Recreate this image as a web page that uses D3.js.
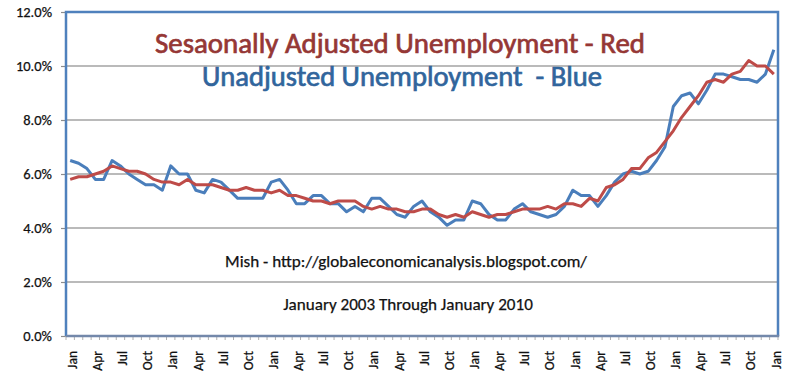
<!DOCTYPE html>
<html>
<head>
<meta charset="utf-8">
<script src="https://cdn.jsdelivr.net/npm/d3@7"></script>
<style>
  html, body { margin: 0; padding: 0; background: #fff; }
  svg { display: block; }
</style>
</head>
<body>
<svg id="chart" width="800" height="388"></svg>
<script>
// ---------------- data ----------------
const years = [2003, 2004, 2005, 2006, 2007, 2008, 2009, 2010];
const monthNames = ["Jan","Feb","Mar","Apr","May","Jun","Jul","Aug","Sep","Oct","Nov","Dec"];
const categories = [];
years.forEach(y => monthNames.forEach(m => categories.push(m + " " + y)));
categories.length = 85; // Jan 2003 .. Jan 2010

// Seasonally adjusted (red)
const seasonallyAdjusted = [
  5.8, 5.9, 5.9, 6.0, 6.1, 6.3, 6.2, 6.1, 6.1, 6.0, 5.8, 5.7,
  5.7, 5.6, 5.8, 5.6, 5.6, 5.6, 5.5, 5.4, 5.4, 5.5, 5.4, 5.4,
  5.3, 5.4, 5.2, 5.2, 5.1, 5.0, 5.0, 4.9, 5.0, 5.0, 5.0, 4.8,
  4.7, 4.8, 4.7, 4.7, 4.6, 4.6, 4.7, 4.7, 4.5, 4.4, 4.5, 4.4,
  4.6, 4.5, 4.4, 4.5, 4.5, 4.6, 4.7, 4.7, 4.7, 4.8, 4.7, 4.9,
  4.9, 4.8, 5.1, 5.0, 5.5, 5.6, 5.8, 6.2, 6.2, 6.6, 6.8, 7.2,
  7.6, 8.1, 8.5, 8.9, 9.4, 9.5, 9.4, 9.7, 9.8, 10.2, 10.0, 10.0,
  9.7
];
// Unadjusted (blue)
const unadjusted = [
  6.5, 6.4, 6.2, 5.8, 5.8, 6.5, 6.3, 6.0, 5.8, 5.6, 5.6, 5.4,
  6.3, 6.0, 6.0, 5.4, 5.3, 5.8, 5.7, 5.4, 5.1, 5.1, 5.1, 5.1,
  5.7, 5.8, 5.4, 4.9, 4.9, 5.2, 5.2, 4.9, 4.9, 4.6, 4.8, 4.6,
  5.1, 5.1, 4.8, 4.5, 4.4, 4.8, 5.0, 4.6, 4.4, 4.1, 4.3, 4.3,
  5.0, 4.9, 4.5, 4.3, 4.3, 4.7, 4.9, 4.6, 4.5, 4.4, 4.5, 4.8,
  5.4, 5.2, 5.2, 4.8, 5.2, 5.7, 6.0, 6.1, 6.0, 6.1, 6.5, 7.0,
  8.5, 8.9, 9.0, 8.6, 9.1, 9.7, 9.7, 9.6, 9.5, 9.5, 9.4, 9.7,
  10.6
];
const yTicks = [0, 2, 4, 6, 8, 10, 12];
const xTickLabelEvery = 3;

const titleRed = "Sesaonally Adjusted Unemployment - Red";
const titleBlue = "Unadjusted Unemployment  - Blue";
const noteSource = "Mish - http://globaleconomicanalysis.blogspot.com/";
const noteRange = "January 2003 Through January 2010";

// ---------------- layout ----------------
const FONT = "Carlito, Lato, 'Open Sans', sans-serif";
const plot = { left: 66, right: 778, top: 12, bottom: 336 };
const svg = d3.select("#chart");

const x = d3.scaleBand().domain(d3.range(categories.length)).range([plot.left, plot.right]).padding(0);
const cx = i => x(i) + x.bandwidth() / 2;
const y = d3.scaleLinear().domain([0, 12]).range([plot.bottom, plot.top]);

// gridlines
svg.append("g")
  .selectAll("line")
  .data(yTicks.filter(t => t > 0 && t < 12))
  .join("line")
  .attr("x1", plot.left).attr("x2", plot.right)
  .attr("y1", d => y(d)).attr("y2", d => y(d))
  .attr("stroke", "#a3a3a3").attr("stroke-width", 1.5);

// y axis
const yAxis = svg.append("g")
  .attr("transform", `translate(${plot.left},0)`)
  .call(d3.axisLeft(y).tickValues(yTicks).tickFormat(d => d.toFixed(1) + "%").tickSize(5).tickPadding(9));
yAxis.select(".domain").remove();
yAxis.selectAll(".tick line").attr("stroke", "#8c8c8c").attr("stroke-width", 1.2);
yAxis.selectAll(".tick text")
  .attr("font-family", FONT).attr("font-size", 14.5).attr("fill", "#111")
  .attr("stroke", "#111").attr("stroke-width", 0.25);

// x axis labels
const xAxis = svg.append("g")
  .attr("transform", `translate(0,${plot.bottom})`)
  .call(d3.axisBottom(x)
    .tickValues(d3.range(0, categories.length, xTickLabelEvery))
    .tickFormat(i => categories[i].split(" ")[0])
    .tickSize(0));
xAxis.select(".domain").remove();
xAxis.selectAll(".tick text")
  .attr("font-family", FONT).attr("font-size", 13.5).attr("fill", "#111")
  .attr("stroke", "#111").attr("stroke-width", 0.25)
  .attr("text-anchor", "end")
  .attr("transform", "translate(2,15) rotate(-90)")
  .attr("x", 0).attr("y", 0).attr("dy", "0.35em");

// category boundary tick marks
svg.append("g")
  .selectAll("line")
  .data(d3.range(categories.length + 1))
  .join("line")
  .attr("x1", i => plot.left + i * x.step()).attr("x2", i => plot.left + i * x.step())
  .attr("y1", plot.bottom).attr("y2", plot.bottom + 4)
  .attr("stroke", "#b0b0b0").attr("stroke-width", 1);

// plot border
svg.append("path")
  .attr("d", `M${plot.left},${plot.bottom}V${plot.top}H${plot.right}V${plot.bottom}`)
  .attr("fill", "none").attr("stroke", "#4f81bd").attr("stroke-width", 2.5);
svg.append("line")
  .attr("x1", plot.left).attr("x2", plot.right + 1.2)
  .attr("y1", plot.bottom).attr("y2", plot.bottom)
  .attr("stroke", "#7388aa").attr("stroke-width", 2.5);

// lines
const line = d3.line().x((d, i) => cx(i)).y(d => y(d));
svg.append("path").datum(unadjusted)
  .attr("d", line).attr("fill", "none")
  .attr("stroke", "#4a7ebb").attr("stroke-width", 3).attr("stroke-linejoin", "round");
svg.append("path").datum(seasonallyAdjusted)
  .attr("d", line).attr("fill", "none")
  .attr("stroke", "#be4b48").attr("stroke-width", 3).attr("stroke-linejoin", "round");

// texts (fit to measured widths of the reference)
function addText(str, xc, yb, width, size, color, sw) {
  const t = svg.append("text")
    .attr("x", xc).attr("y", yb).attr("text-anchor", "middle")
    .attr("font-family", FONT).attr("font-size", size).attr("fill", color)
    .attr("stroke", color).attr("stroke-width", sw)
    .attr("xml:space", "preserve")
    .style("white-space", "pre")
    .text(str);
  const w = t.node().getComputedTextLength();
  if (w > 0) t.attr("font-size", size * width / w);
  return t;
}
addText(titleRed, 400, 53, 490, 24, "#953735", 0.7);
addText(titleBlue, 402, 86, 400, 24, "#31659c", 0.7);
addText(noteSource, 406, 267, 362, 14, "#111", 0.25);
addText(noteRange, 408, 310, 250, 14, "#111", 0.25);
</script>
</body>
</html>
